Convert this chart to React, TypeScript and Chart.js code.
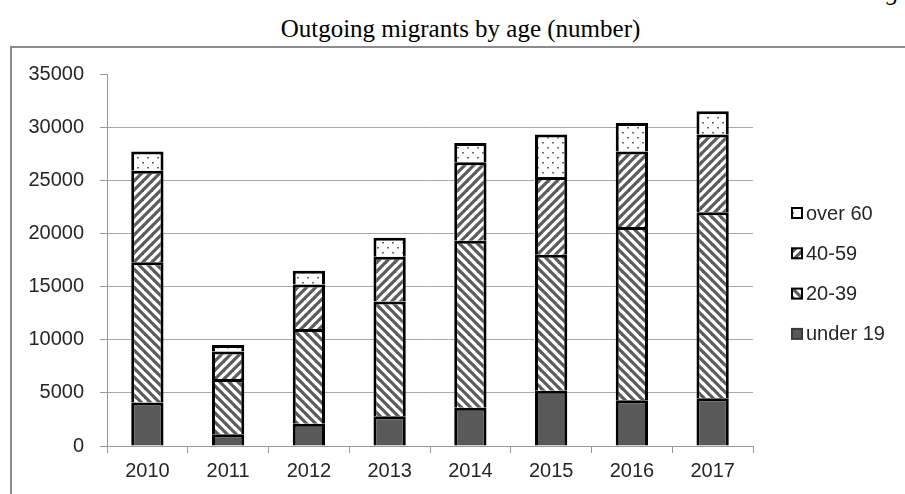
import { useEffect, useRef } from 'react';
import { Chart, registerables } from 'chart.js';

Chart.register(...registerables);

// Outgoing migrants per year, split by age group (stacked)
const years = ['2010', '2011', '2012', '2013', '2014', '2015', '2016', '2017'];
const under19 = [4100, 1100, 2100, 2800, 3600, 5200, 4300, 4500];
const age20to39 = [13200, 5200, 8900, 10800, 15700, 12800, 16300, 17500];
const age40to59 = [8600, 2600, 4200, 4200, 7400, 7300, 7100, 7300];
const over60 = [1800, 600, 1300, 1800, 1800, 4000, 2700, 2200];

const yTicks = { min: 0, max: 35000, step: 5000 };

const SANS = '"Liberation Sans", Arial, sans-serif';
const SERIF = '"Liberation Serif", "Times New Roman", serif';

function makeTile(size: number, draw: (c: CanvasRenderingContext2D) => void) {
  const tile = document.createElement('canvas');
  tile.width = size;
  tile.height = size;
  const c = tile.getContext('2d')!;
  c.fillStyle = '#ffffff';
  c.fillRect(0, 0, size, size);
  draw(c);
  return tile;
}

// diagonal hatching; "down" runs top-left -> bottom-right, "up" the other way
function stripePattern(ctx: CanvasRenderingContext2D, dir: 'down' | 'up') {
  const s = 9;
  const tile = makeTile(s, (c) => {
    c.strokeStyle = '#5c5c5c';
    c.lineWidth = 3.2;
    c.lineCap = 'square';
    for (const k of [-s, 0, s]) {
      c.beginPath();
      if (dir === 'down') {
        c.moveTo(k, 0);
        c.lineTo(k + s, s);
      } else {
        c.moveTo(k, s);
        c.lineTo(k + s, 0);
      }
      c.stroke();
    }
  });
  return ctx.createPattern(tile, 'repeat')!;
}

function dotPattern(ctx: CanvasRenderingContext2D) {
  const tile = makeTile(10, (c) => {
    c.fillStyle = '#6a6a6a';
    c.fillRect(2, 2, 2, 1.5);
    c.fillRect(7, 7, 2, 1.5);
  });
  return ctx.createPattern(tile, 'repeat')!;
}

// vertical legend at the right, listed from the top segment down
const sideLegend = {
  id: 'sideLegend',
  afterDraw(chart: any, _args: any, opts: any) {
    const ctx: CanvasRenderingContext2D = chart.ctx;
    const items = chart.data.datasets.slice().reverse();
    ctx.save();
    items.forEach((ds: any, i: number) => {
      const cy = opts.top + i * opts.gap;
      const x = opts.left;
      const b = opts.box;
      ctx.fillStyle = ds.backgroundColor;
      ctx.fillRect(x, cy - b / 2, b, b);
      ctx.lineWidth = 2;
      ctx.strokeStyle = ds.swatchBorder || '#000';
      ctx.strokeRect(x, cy - b / 2, b, b);
      ctx.fillStyle = '#262626';
      ctx.font = `${opts.fontSize}px ${SANS}`;
      ctx.textBaseline = 'middle';
      ctx.textAlign = 'left';
      ctx.fillText(ds.label, x + b + 4, cy + 1);
    });
    ctx.restore();
  },
};

export default function App() {
  const canvasRef = useRef<HTMLCanvasElement | null>(null);

  useEffect(() => {
    const canvas = canvasRef.current!;
    const ctx = canvas.getContext('2d')!;

    const chart = new Chart(canvas, {
      type: 'bar',
      data: {
        labels: years,
        datasets: [
          {
            label: 'under 19',
            data: under19,
            backgroundColor: '#595959',
            borderColor: '#000',
            borderWidth: 3,
            swatchBorder: '#3a3a3a',
          } as any,
          {
            label: '20-39',
            data: age20to39,
            backgroundColor: stripePattern(ctx, 'down'),
            borderColor: '#000',
            borderWidth: 3,
          },
          {
            label: '40-59',
            data: age40to59,
            backgroundColor: stripePattern(ctx, 'up'),
            borderColor: '#000',
            borderWidth: 3,
          },
          {
            label: 'over 60',
            data: over60,
            backgroundColor: dotPattern(ctx),
            borderColor: '#000',
            borderWidth: 3,
          },
        ],
      },
      options: {
        animation: false,
        responsive: false,
        devicePixelRatio: 1,
        events: [],
        datasets: {
          bar: { categoryPercentage: 1, barPercentage: 0.4 },
        },
        layout: { padding: { top: 74, left: 0, right: 152, bottom: 0 } },
        plugins: {
          legend: { display: false },
          title: { display: false },
          tooltip: { enabled: false },
          sideLegend: { left: 792, top: 213, gap: 40.3, box: 10, fontSize: 20 },
        } as any,
        scales: {
          x: {
            stacked: true,
            afterFit: (s: any) => {
              s.height = 48;
            },
            border: { color: '#9a9a9a', width: 1 },
            grid: {
              display: true,
              drawOnChartArea: false,
              drawTicks: true,
              tickLength: 7,
              color: '#9a9a9a',
            },
            ticks: {
              color: '#262626',
              padding: 6,
              font: { family: SANS, size: 20 },
            },
          },
          y: {
            stacked: true,
            min: yTicks.min,
            max: yTicks.max,
            afterFit: (s: any) => {
              s.width = 107;
            },
            border: { color: '#9a9a9a', width: 1 },
            grid: {
              color: (c: any) => (c.tick && c.tick.value === yTicks.max ? 'rgba(0,0,0,0)' : '#a8a8a8'),
              tickColor: '#9a9a9a',
              tickLength: 7,
              lineWidth: 1,
            },
            ticks: {
              stepSize: yTicks.step,
              color: '#262626',
              padding: 16,
              font: { family: SANS, size: 20 },
              callback: (v: any) => String(v),
            },
          },
        },
      },
      plugins: [sideLegend],
    });

    return () => chart.destroy();
  }, []);

  return (
    <div
      style={{
        position: 'fixed',
        left: 0,
        top: 0,
        width: 905,
        height: 494,
        background: '#fff',
        overflow: 'hidden',
      }}
    >
      <div
        style={{
          position: 'absolute',
          right: 6,
          top: -22,
          fontFamily: SERIF,
          fontSize: 25,
          lineHeight: '28px',
          fontStyle: 'italic',
          color: '#000',
        }}
      >
        g
      </div>
      <div
        style={{
          position: 'absolute',
          left: 8,
          top: 15,
          width: 905,
          textAlign: 'center',
          fontFamily: SERIF,
          fontSize: 25,
          lineHeight: '28px',
          color: '#000',
        }}
      >
        Outgoing migrants by age (number)
      </div>
      <div
        style={{
          position: 'absolute',
          left: 10,
          top: 46,
          width: 1000,
          height: 1000,
          border: '2px solid #8c8c8c',
          boxSizing: 'border-box',
        }}
      />
      <canvas
        ref={canvasRef}
        width={905}
        height={494}
        style={{ position: 'absolute', left: 0, top: 0, width: 905, height: 494 }}
      />
    </div>
  );
}
